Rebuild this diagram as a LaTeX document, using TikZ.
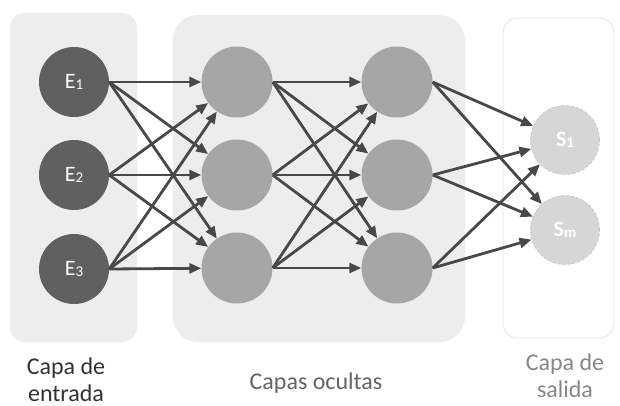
\documentclass[tikz,border=0pt]{standalone}
\usepackage{fontspec}
\setmainfont{Carlito}
\usetikzlibrary{arrows.meta}
\definecolor{panelc}{RGB}{237,237,237}
\definecolor{panelb}{RGB}{228,228,228}
\definecolor{cin}{RGB}{96,96,96}
\definecolor{chid}{RGB}{166,166,166}
\definecolor{cout}{RGB}{214,214,214}
\definecolor{coutb}{RGB}{195,195,195}
\definecolor{carrow}{RGB}{72,72,72}
\newcommand\nsub[1]{\raisebox{-1.5pt}{\fontsize{15}{15}\selectfont #1}}
\begin{document}
\begin{tikzpicture}[x=1pt,y=-1pt,
  innode/.style={circle,fill=cin,minimum size=70pt,inner sep=0pt,text=white,font=\fontsize{22}{22}\selectfont},
  hidnode/.style={circle,fill=chid,minimum size=71pt,inner sep=0pt},
  outnode/.style={circle,fill=cout,draw=coutb,densely dashed,line width=0.6pt,minimum size=69pt,inner sep=0pt,text=white,font=\fontsize{22}{22}\selectfont\bfseries},
  conn/.style={draw=carrow,line width=2.8pt,-{Triangle[length=12pt,width=10pt]}},
  lab/.style={font=\fontsize{24}{27}\selectfont,align=center,anchor=base,inner sep=0pt}
]
\useasboundingbox (0,0) rectangle (620,406);
\fill[white] (0,0) rectangle (620,406);
% panels
\fill[panelc,rounded corners=15pt] (10,13) rectangle (137,342);
\fill[panelc,rounded corners=25pt] (173,15) rectangle (465,342);
\draw[panelb,line width=0.8pt,rounded corners=15pt] (503,18) rectangle (614,338);
% input nodes
\node[innode] (e1) at (74,82) {E\nsub{1}};
\node[innode] (e2) at (74,175) {E\nsub{2}};
\node[innode] (e3) at (74,269) {E\nsub{3}};
% hidden layer 1
\node[hidnode] (a1) at (237,82) {};
\node[hidnode] (a2) at (237,175) {};
\node[hidnode] (a3) at (237,268) {};
% hidden layer 2
\node[hidnode] (b1) at (397,82) {};
\node[hidnode] (b2) at (397,175) {};
\node[hidnode] (b3) at (397,268) {};
% outputs
\node[outnode] (s1) at (565,140) {S\nsub{1}};
\node[outnode] (sm) at (565,230) {S\nsub{m}};
% connections
\foreach \i in {1,2,3}{
  \foreach \j in {1,2,3}{
    \draw[conn] (e\i.east) -- (a\j);
    \draw[conn] (a\i.east) -- (b\j);
  }
  \draw[conn] (b\i.east) -- (s1);
  \draw[conn] (b\i.east) -- (sm);
}
% labels
\node[lab,text={rgb,255:red,50;green,50;blue,50}] (l1) at (66,401) {Capa de\\entrada};
\node[lab,text={rgb,255:red,100;green,100;blue,100}] (l2) at (316,389) {Capas ocultas};
\node[lab,text={rgb,255:red,135;green,135;blue,135}] (l3) at (565,397) {Capa de\\salida};
\end{tikzpicture}
\end{document}
